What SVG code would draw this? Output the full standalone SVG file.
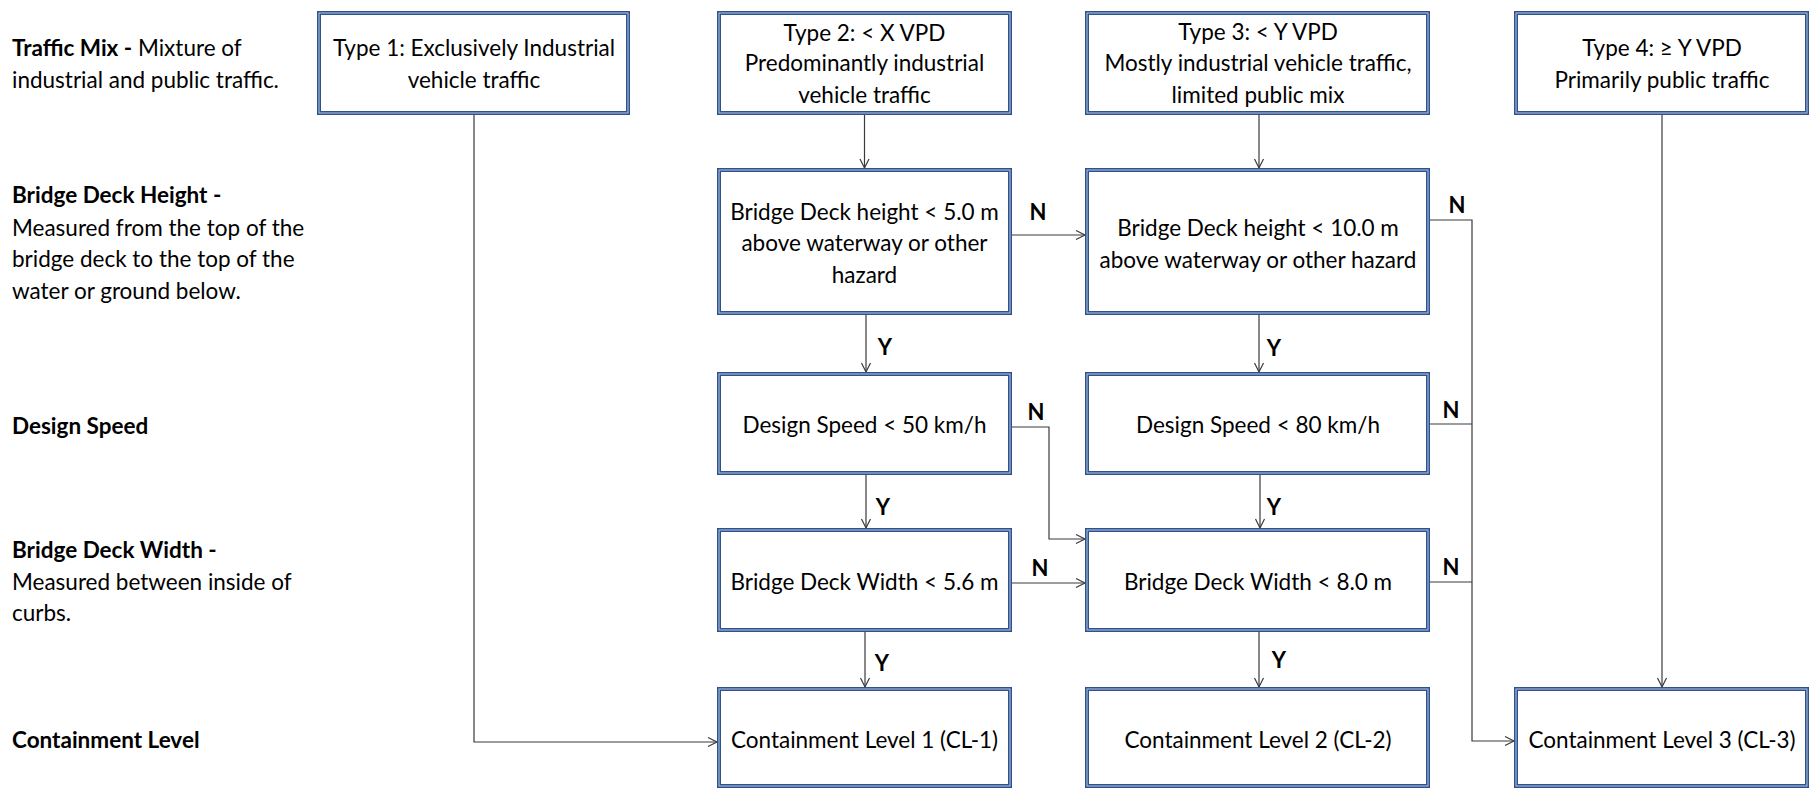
<svg xmlns="http://www.w3.org/2000/svg" width="1813" height="789" viewBox="0 0 1813 789">
<style>
text{font-family:Lato,"Liberation Sans",sans-serif;font-size:22.5px;fill:#000}
.c{text-anchor:middle}
.b{font-weight:bold}
.lbl{font-weight:bold;font-size:22px}
.box{fill:#fff;stroke:#2E5190;stroke-width:4}
.in{fill:none;stroke:#B9C8E2;stroke-width:1}
.ln{fill:none;stroke:#3a3a3a;stroke-width:1.2}
</style>
<defs>
<marker id="ar" markerUnits="userSpaceOnUse" markerWidth="12" markerHeight="12" refX="10" refY="5" orient="auto" overflow="visible">
<path d="M1,0.5 L10,5 L1,9.5" fill="none" stroke="#3a3a3a" stroke-width="1.2"/>
</marker>
</defs>

<g id="side-labels">
<text x="12" y="56"><tspan class="b">Traffic Mix -</tspan> Mixture of</text>
<text x="12" y="88">industrial and public traffic.</text>
<text x="12" y="203" class="b">Bridge Deck Height -</text>
<text x="12" y="236">Measured from the top of the</text>
<text x="12" y="267">bridge deck to the top of the</text>
<text x="12" y="299">water or ground below.</text>
<text x="12" y="434" class="b">Design Speed</text>
<text x="12" y="558" class="b">Bridge Deck Width -</text>
<text x="12" y="590">Measured between inside of</text>
<text x="12" y="621">curbs.</text>
<text x="12" y="748" class="b">Containment Level</text>
</g>

<g id="connectors">
<polyline class="ln" points="474,115 474,742 717,742" marker-end="url(#ar)"/>
<line class="ln" x1="864.5" y1="115" x2="864.5" y2="168" marker-end="url(#ar)"/>
<line class="ln" x1="1259" y1="115" x2="1259" y2="168" marker-end="url(#ar)"/>
<line class="ln" x1="1662" y1="115" x2="1662" y2="687" marker-end="url(#ar)"/>
<line class="ln" x1="1012" y1="235" x2="1085" y2="235" marker-end="url(#ar)"/>
<line class="ln" x1="866" y1="315" x2="866" y2="372" marker-end="url(#ar)"/>
<line class="ln" x1="1259" y1="315" x2="1259" y2="372" marker-end="url(#ar)"/>
<polyline class="ln" points="1430,220 1472,220 1472,741 1514,741" marker-end="url(#ar)"/>
<line class="ln" x1="1430" y1="424" x2="1472" y2="424"/>
<line class="ln" x1="1430" y1="582" x2="1472" y2="582"/>
<polyline class="ln" points="1012,427 1049,427 1049,539 1085,539" marker-end="url(#ar)"/>
<line class="ln" x1="866" y1="475" x2="866" y2="528" marker-end="url(#ar)"/>
<line class="ln" x1="1260" y1="475" x2="1260" y2="528" marker-end="url(#ar)"/>
<line class="ln" x1="1012" y1="583" x2="1085" y2="583" marker-end="url(#ar)"/>
<line class="ln" x1="865" y1="632" x2="865" y2="687" marker-end="url(#ar)"/>
<line class="ln" x1="1259" y1="632" x2="1259" y2="687" marker-end="url(#ar)"/>
<text class="lbl" x="1038" y="220" text-anchor="middle">N</text>
<text class="lbl" x="1457" y="213" text-anchor="middle">N</text>
<text class="lbl" x="1036" y="420" text-anchor="middle">N</text>
<text class="lbl" x="1451" y="418" text-anchor="middle">N</text>
<text class="lbl" x="1040" y="576" text-anchor="middle">N</text>
<text class="lbl" x="1451" y="575" text-anchor="middle">N</text>
<text class="lbl" x="885" y="355" text-anchor="middle">Y</text>
<text class="lbl" x="1274" y="356" text-anchor="middle">Y</text>
<text class="lbl" x="883" y="515" text-anchor="middle">Y</text>
<text class="lbl" x="1274" y="515" text-anchor="middle">Y</text>
<text class="lbl" x="882" y="671" text-anchor="middle">Y</text>
<text class="lbl" x="1279" y="668" text-anchor="middle">Y</text>
</g>

<g id="type1">
<rect class="box" x="319" y="13" width="309" height="100"/><rect class="in" x="319" y="13" width="309" height="100"/>
<text class="c" x="474" y="56">Type 1: Exclusively Industrial</text>
<text class="c" x="474" y="88">vehicle traffic</text>
</g>
<g id="type2">
<rect class="box" x="719" y="13" width="291" height="100"/><rect class="in" x="719" y="13" width="291" height="100"/>
<text class="c" x="864.5" y="41">Type 2: &lt; X VPD</text>
<text class="c" x="864.5" y="71">Predominantly industrial</text>
<text class="c" x="864.5" y="103">vehicle traffic</text>
</g>
<g id="type3">
<rect class="box" x="1087" y="13" width="341" height="100"/><rect class="in" x="1087" y="13" width="341" height="100"/>
<text class="c" x="1258" y="40">Type 3: &lt; Y VPD</text>
<text class="c" x="1258" y="71">Mostly industrial vehicle traffic,</text>
<text class="c" x="1258" y="103">limited public mix</text>
</g>
<g id="type4">
<rect class="box" x="1516" y="13" width="291" height="100"/><rect class="in" x="1516" y="13" width="291" height="100"/>
<text class="c" x="1662" y="56">Type 4: ≥ Y VPD</text>
<text class="c" x="1662" y="88">Primarily public traffic</text>
</g>
<g id="height5">
<rect class="box" x="719" y="170" width="291" height="143"/><rect class="in" x="719" y="170" width="291" height="143"/>
<text class="c" x="864.5" y="220">Bridge Deck height &lt; 5.0 m</text>
<text class="c" x="864.5" y="251">above waterway or other</text>
<text class="c" x="864.5" y="283">hazard</text>
</g>
<g id="height10">
<rect class="box" x="1087" y="170" width="341" height="143"/><rect class="in" x="1087" y="170" width="341" height="143"/>
<text class="c" x="1258" y="236">Bridge Deck height &lt; 10.0 m</text>
<text class="c" x="1258" y="268">above waterway or other hazard</text>
</g>
<g id="speed50">
<rect class="box" x="719" y="374" width="291" height="99"/><rect class="in" x="719" y="374" width="291" height="99"/>
<text class="c" x="864.5" y="433">Design Speed &lt; 50 km/h</text>
</g>
<g id="speed80">
<rect class="box" x="1087" y="374" width="341" height="99"/><rect class="in" x="1087" y="374" width="341" height="99"/>
<text class="c" x="1258" y="433">Design Speed &lt; 80 km/h</text>
</g>
<g id="width56">
<rect class="box" x="719" y="530" width="291" height="100"/><rect class="in" x="719" y="530" width="291" height="100"/>
<text class="c" x="864.5" y="590">Bridge Deck Width &lt; 5.6 m</text>
</g>
<g id="width80">
<rect class="box" x="1087" y="530" width="341" height="100"/><rect class="in" x="1087" y="530" width="341" height="100"/>
<text class="c" x="1258" y="590">Bridge Deck Width &lt; 8.0 m</text>
</g>
<g id="cl1">
<rect class="box" x="719" y="689" width="291" height="97"/><rect class="in" x="719" y="689" width="291" height="97"/>
<text class="c" x="864.5" y="748">Containment Level 1 (CL-1)</text>
</g>
<g id="cl2">
<rect class="box" x="1087" y="689" width="341" height="97"/><rect class="in" x="1087" y="689" width="341" height="97"/>
<text class="c" x="1258" y="748">Containment Level 2 (CL-2)</text>
</g>
<g id="cl3">
<rect class="box" x="1516" y="689" width="291" height="97"/><rect class="in" x="1516" y="689" width="291" height="97"/>
<text class="c" x="1662" y="748">Containment Level 3 (CL-3)</text>
</g>
</svg>
